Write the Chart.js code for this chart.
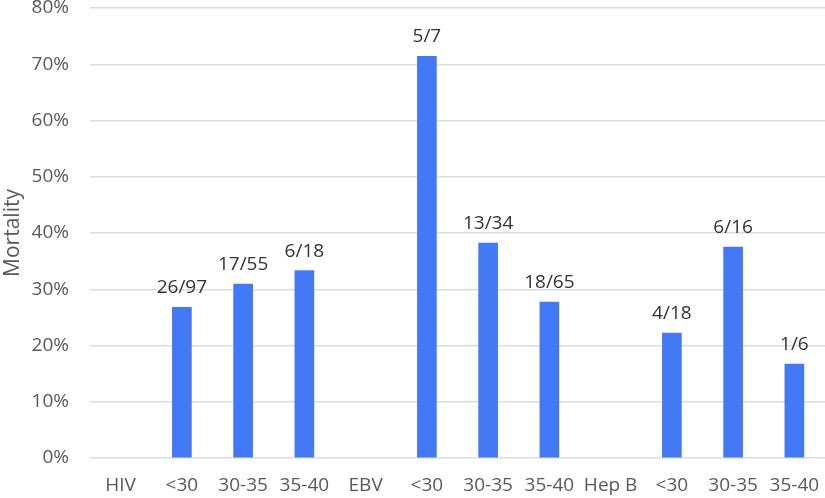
<!DOCTYPE html>
<html><head><meta charset="utf-8">
<script src="https://cdn.jsdelivr.net/npm/chart.js@4/dist/chart.umd.min.js"></script>
<style>html,body{margin:0;padding:0;background:#fff}#wrap{width:825px;height:498px}</style>
</head><body><div id="wrap"><canvas id="c" width="825" height="498"></canvas></div>
<script>
const categories = ["HIV","<30","30-35","35-40","EBV","<30","30-35","35-40","Hep B","<30","30-35","35-40"];
const mortality = [null, 26.8, 30.9, 33.3, null, 71.4, 38.2, 27.7, null, 22.2, 37.5, 16.7];
const fractionLabels = ["", "26/97", "17/55", "6/18", "", "5/7", "13/34", "18/65", "", "4/18", "6/16", "1/6"];
const yTicks = [0,10,20,30,40,50,60,70,80];

const FONT = "'Open Sans', 'Noto Sans', sans-serif";
const labelPlugin = {
  id: 'barLabels',
  afterDatasetsDraw(chart) {
    const ctx = chart.ctx;
    const meta = chart.getDatasetMeta(0);
    ctx.save();
    ctx.font = "19px " + FONT;
    ctx.fillStyle = "#333333";
    ctx.textAlign = "center";
    ctx.textBaseline = "bottom";
    meta.data.forEach((bar, i) => {
      if (mortality[i] == null) return;
      ctx.fillText(fractionLabels[i], bar.x, bar.y - 10);
    });
    ctx.restore();
  }
};

new Chart(document.getElementById('c'), {
  type: 'bar',
  data: { labels: categories, datasets: [{ data: mortality, backgroundColor: '#4479F6', barThickness: 19 }] },
  options: {
    responsive: false, animation: false,
    layout: { padding: { top: 8, right: -2, left: 0, bottom: 0 } },
    plugins: { legend: { display: false }, tooltip: { enabled: false } },
    scales: {
      x: {
        grid: { display: false, drawTicks: false },
        border: { display: false },
        ticks: { color: '#595959', font: { size: 19, family: FONT }, padding: 16, maxRotation: 0, autoSkip: false },
        afterFit(s) { s.height = 40; s.paddingLeft = 0; s.paddingRight = 0; }
      },
      y: {
        min: 0, max: 80,
        afterBuildTicks(s) { s.ticks = yTicks.map(v => ({ value: v })); },
        grid: { color: '#d9dde0', lineWidth: 1.5, drawTicks: false },
        border: { display: false },
        ticks: { color: '#595959', font: { size: 19, family: FONT }, padding: 21, callback: v => v + '%' },
        title: { display: true, text: 'Mortality', color: '#595959', font: { size: 21, family: FONT }, padding: { top: 0, bottom: 0 } },
        afterFit(s) { s.width = 90; s.paddingTop = 0; }
      }
    }
  },
  plugins: [labelPlugin]
});
</script></body></html>
